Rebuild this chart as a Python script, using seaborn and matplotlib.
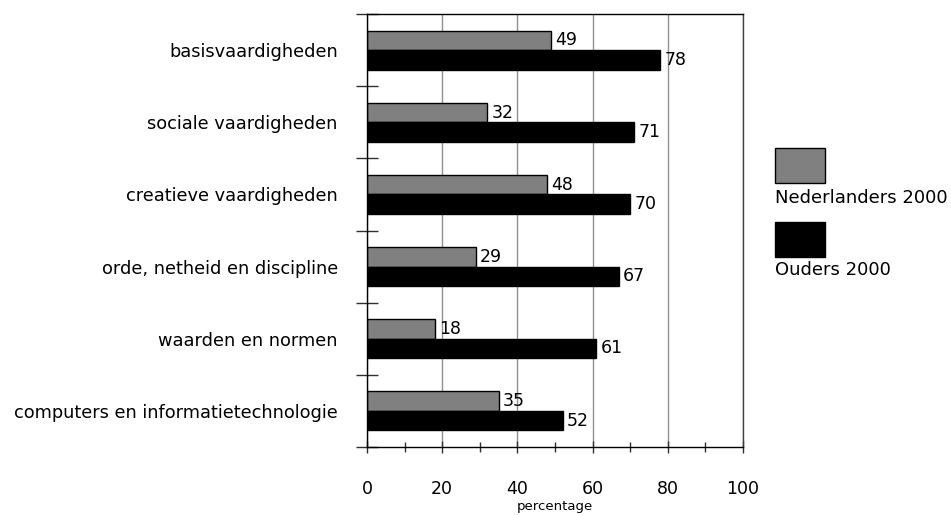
import matplotlib
matplotlib.use("Agg")
import matplotlib.pyplot as plt
import matplotlib.patches as mpatches
from matplotlib.ticker import MultipleLocator, FixedLocator
import seaborn as sns
import pandas as pd

sns.set_style("white")
plt.rcParams["font.family"] = ["DejaVu Sans"]
plt.rcParams["text.color"] = "black"
plt.rcParams["axes.labelcolor"] = "black"
plt.rcParams["xtick.color"] = "black"
plt.rcParams["ytick.color"] = "black"

# Data
categories = ["basisvaardigheden", "sociale vaardigheden", "creatieve vaardigheden",
              "orde, netheid en discipline", "waarden en normen",
              "computers en informatietechnologie"]
nederlanders = [49, 32, 48, 29, 18, 35]
ouders = [78, 71, 70, 67, 61, 52]
series = ["Nederlanders 2000", "Ouders 2000"]
colors = ["#808080", "#000000"]

df = pd.DataFrame({
    "categorie": categories * 2,
    "waarde": nederlanders + ouders,
    "reeks": [series[0]] * len(categories) + [series[1]] * len(categories),
})

fig = plt.figure(figsize=(9.51, 5.15), dpi=100)
ax = fig.add_axes([367 / 951, 1 - 447 / 515, 376 / 951, 433 / 515])

sns.barplot(data=df, y="categorie", x="waarde", hue="reeks", orient="h",
            palette=colors, edgecolor="black", linewidth=1, width=0.54,
            legend=False, ax=ax)

for cont in ax.containers:
    ax.bar_label(cont, padding=3, fontsize=12.5, color="black")

ax.set_xlim(0, 100)
ax.set_ylim(5.5, -0.5)
ax.set_xlabel("percentage", fontsize=9.5, labelpad=2)
ax.set_ylabel("")

# grid at major x positions
ax.xaxis.set_major_locator(MultipleLocator(20))
ax.xaxis.set_minor_locator(MultipleLocator(10))
ax.grid(axis="x", which="major", color="#909090", linewidth=1)
ax.set_axisbelow(True)
ax.tick_params(axis="x", which="both", bottom=True)
ax.tick_params(axis="x", which="major", direction="inout", length=9, width=1,
               labelsize=12.5, pad=19, color="#303030")
ax.tick_params(axis="x", which="minor", direction="inout", length=7, width=1,
               color="#303030")

# y: category labels, separator ticks between groups
ax.tick_params(axis="y", which="both", left=True)
ax.tick_params(axis="y", which="major", length=0, labelsize=12.8, pad=21)
ax.yaxis.set_minor_locator(FixedLocator([i - 0.5 for i in range(len(categories) + 1)]))
ax.tick_params(axis="y", which="minor", direction="inout", length=16, width=1,
               color="#303030")

for side in ["left", "bottom", "top"]:
    ax.spines[side].set_color("black")
    ax.spines[side].set_linewidth(1)
ax.spines["right"].set_color("#404040")
ax.spines["right"].set_linewidth(1)

# legend: boxes with the text underneath
legend_boxes = [(1 - 183 / 515, 1 - 198 / 515), (1 - 257 / 515, 1 - 270 / 515)]
for (box_y, text_y), name, col in zip(legend_boxes, series, colors):
    fig.add_artist(mpatches.Rectangle((775 / 951, box_y), 50 / 951, 35 / 515,
                                      facecolor=col, edgecolor="black",
                                      linewidth=1, transform=fig.transFigure))
    fig.text(775 / 951, text_y, name, fontsize=13, va="center", ha="left")

fig.savefig("out.png", dpi=100, facecolor="white")
